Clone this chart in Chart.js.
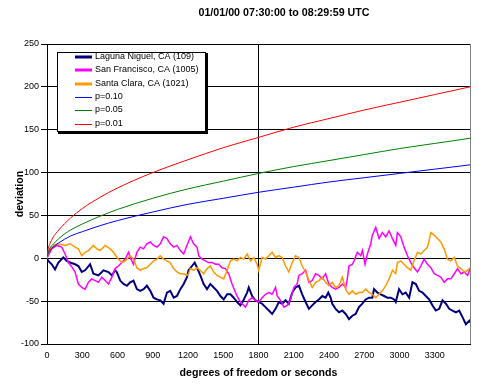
<!DOCTYPE html>
<html lang="en">
<head>
    <meta charset="UTF-8">
    <title>Deviation chart</title>
    <style>
        html, body { margin: 0; padding: 0; background: #fff; }
        #chart { display: block; }
    </style>
    <script src="https://cdn.jsdelivr.net/npm/chart.js@4.4.6/dist/chart.umd.min.js"></script>
</head>
<body>
    <canvas id="chart" width="479" height="384"></canvas>
    <script>
        // [seconds, deviation]
        const laguna = [[0,0],[11,-3],[40,-7],[68,-13],[97,-5],[139,1],[168,-3],[196,-5],[239,-7],[267,-9],[296,-16],[324,-14],[367,-7],[395,-18],[438,-20],[481,-14],[523,-16],[552,-20],[580,-14],[594,-16],[623,-26],[651,-30],[680,-32],[708,-28],[736,-26],[765,-36],[793,-38],[822,-36],[850,-32],[879,-38],[907,-46],[936,-48],[964,-49],[992,-53],[1021,-40],[1049,-38],[1078,-46],[1106,-44],[1135,-36],[1163,-30],[1191,-22],[1205,-14],[1234,-9],[1257,-5],[1277,-11],[1305,-20],[1333,-30],[1362,-36],[1390,-30],[1419,-34],[1447,-38],[1476,-44],[1504,-48],[1533,-42],[1561,-42],[1589,-46],[1618,-51],[1646,-55],[1675,-48],[1703,-40],[1717,-34],[1746,-44],[1774,-49],[1802,-51],[1831,-53],[1859,-57],[1888,-61],[1916,-65],[1945,-59],[1973,-51],[2002,-53],[2030,-49],[2058,-53],[2087,-40],[2115,-34],[2144,-32],[2172,-42],[2201,-51],[2229,-59],[2257,-55],[2286,-51],[2314,-48],[2343,-44],[2371,-46],[2394,-40],[2414,-46],[2428,-53],[2456,-59],[2485,-63],[2513,-61],[2542,-65],[2570,-71],[2599,-67],[2627,-65],[2655,-57],[2684,-53],[2712,-48],[2741,-46],[2769,-46],[2783,-36],[2812,-40],[2840,-42],[2869,-44],[2897,-46],[2926,-46],[2954,-48],[2968,-51],[2996,-36],[3025,-42],[3053,-40],[3082,-46],[3110,-28],[3139,-30],[3167,-38],[3196,-40],[3224,-44],[3252,-48],[3281,-55],[3309,-61],[3338,-59],[3366,-49],[3395,-53],[3423,-59],[3451,-61],[3480,-63],[3508,-61],[3537,-69],[3565,-77],[3594,-73],[3600,-75]];

        const sanFrancisco = [[0,0],[40,11],[83,15],[125,13],[154,5],[182,-5],[211,-10],[239,-16],[267,-30],[296,-34],[324,-36],[353,-28],[381,-24],[410,-26],[438,-28],[466,-22],[495,-26],[523,-30],[552,-22],[580,-12],[608,-9],[637,-5],[665,-1],[694,7],[708,1],[736,-7],[765,7],[793,13],[822,11],[850,17],[879,19],[907,15],[936,13],[964,17],[992,25],[1021,23],[1049,17],[1078,13],[1106,15],[1135,9],[1163,5],[1191,15],[1220,25],[1248,17],[1277,13],[1291,3],[1319,-1],[1348,-3],[1376,-5],[1405,-5],[1433,-7],[1461,-7],[1490,-11],[1518,-12],[1547,-18],[1575,-30],[1604,-40],[1632,-48],[1660,-53],[1689,-57],[1717,-49],[1746,-46],[1774,-49],[1802,-51],[1831,-46],[1859,-42],[1888,-40],[1916,-42],[1945,-34],[1959,-44],[1987,-49],[2016,-57],[2044,-55],[2073,-48],[2101,-34],[2129,-30],[2144,-20],[2172,-18],[2201,-14],[2229,-28],[2257,-26],[2286,-18],[2314,-20],[2343,-24],[2371,-18],[2399,-30],[2428,-34],[2456,-36],[2485,-34],[2513,-30],[2542,-34],[2556,-24],[2570,-9],[2599,-7],[2613,-3],[2641,7],[2670,3],[2684,9],[2707,-7],[2727,5],[2755,17],[2769,27],[2798,36],[2826,23],[2854,30],[2883,25],[2911,32],[2940,23],[2968,15],[2982,30],[3011,25],[3039,13],[3068,3],[3096,-5],[3124,-11],[3153,-16],[3181,-9],[3210,-1],[3238,-7],[3267,-11],[3295,-18],[3323,-20],[3352,-22],[3380,-28],[3409,-24],[3437,-24],[3466,-18],[3494,-12],[3523,-18],[3551,-16],[3580,-20],[3600,-12]];

        const santaClara = [[0,0],[11,8],[54,15],[97,17],[154,15],[196,17],[239,13],[267,11],[296,3],[324,7],[353,9],[395,15],[424,11],[452,9],[495,15],[538,11],[566,7],[586,3],[608,-1],[637,-5],[665,-3],[708,3],[736,-1],[765,-11],[793,-14],[822,-12],[850,-11],[879,-7],[907,-3],[936,-1],[964,3],[992,-1],[1021,-3],[1049,-5],[1078,-12],[1106,-16],[1135,-18],[1163,-18],[1191,-20],[1205,-18],[1220,-12],[1248,-14],[1277,-11],[1305,-14],[1333,-18],[1362,-12],[1390,-9],[1419,-16],[1447,-20],[1476,-22],[1504,-24],[1533,-14],[1561,-3],[1589,-1],[1618,-3],[1646,1],[1675,-1],[1703,5],[1732,-3],[1760,1],[1788,-7],[1802,-14],[1831,1],[1859,-1],[1888,3],[1916,7],[1945,1],[1973,3],[2002,1],[2030,-9],[2058,-16],[2087,-5],[2115,3],[2144,1],[2172,-9],[2201,-16],[2229,-26],[2257,-34],[2286,-28],[2314,-26],[2343,-22],[2371,-28],[2399,-32],[2428,-28],[2456,-34],[2485,-32],[2513,-22],[2542,-36],[2570,-42],[2599,-38],[2627,-42],[2655,-40],[2684,-40],[2712,-36],[2741,-40],[2769,-42],[2798,-46],[2826,-42],[2854,-38],[2883,-32],[2911,-24],[2940,-14],[2968,-18],[2982,-5],[3011,-3],[3039,-7],[3068,-11],[3096,-14],[3124,-3],[3153,7],[3181,5],[3210,9],[3238,13],[3252,21],[3267,30],[3295,27],[3323,23],[3352,19],[3380,11],[3409,-1],[3437,-3],[3466,1],[3494,-9],[3523,-12],[3551,-16],[3580,-14],[3600,-11]];

        // significance curves, sampled at these seconds
        const curveT = [1, 10, 25, 50, 100, 200, 300, 450, 600, 900, 1200, 1500, 1800, 2100, 2400, 2700, 3000, 3300, 3600];
        const p10 = [2, 6, 9, 13, 18, 26, 31, 38, 44, 54, 63, 70, 77, 83, 89, 94, 99, 104, 109];
        const p05 = [2, 7, 12, 16, 23, 33, 40, 49, 57, 70, 81, 90, 99, 107, 114, 121, 128, 134, 140];
        const p01 = [3, 11, 17, 24, 33, 47, 58, 71, 82, 100, 115, 129, 141, 153, 163, 173, 182, 191, 200];

        const titleText = '01/01/00 07:30:00 to 08:29:59 UTC';
        const fontFamily = "'Liberation Sans', Arial, sans-serif";

        const toPts = arr => arr.map(p => ({ x: p[0], y: p[1] }));
        const curvePts = vals => curveT.map((t, i) => ({ x: t, y: vals[i] }));

        // title is a bit right of centre in the original, so draw it by hand
        const titlePlugin = {
            id: 'titleText',
            afterDraw(chart) {
                const ctx = chart.ctx;
                ctx.save();
                ctx.font = 'bold 10.7px ' + fontFamily;
                ctx.fillStyle = '#000';
                ctx.textAlign = 'center';
                ctx.textBaseline = 'middle';
                ctx.fillText(titleText, 284, 13);
                ctx.restore();
            }
        };

        // boxed legend inside the plot, with a drop shadow
        const boxLegend = {
            id: 'boxLegend',
            afterDatasetsDraw(chart) {
                const ctx = chart.ctx;
                const left = 57, top = 52, w = 149, h = 80;
                ctx.save();
                ctx.fillStyle = '#000';
                ctx.fillRect(left + 1, top + 1, w + 1, h + 1);
                ctx.fillStyle = '#fff';
                ctx.fillRect(left, top, w, h);
                ctx.strokeStyle = '#000';
                ctx.lineWidth = 1;
                ctx.strokeRect(left + 0.5, top + 0.5, w - 1, h - 1);
                ctx.font = '9px ' + fontFamily;
                ctx.textBaseline = 'middle';
                chart.data.datasets.forEach((ds, i) => {
                    const y = Math.round(57 + i * 13.35);
                    const thick = i < 3;
                    ctx.strokeStyle = ds.borderColor;
                    ctx.lineWidth = thick ? 3 : 1;
                    ctx.beginPath();
                    ctx.moveTo(75, y + (thick ? 0 : 0.5));
                    ctx.lineTo(92, y + (thick ? 0 : 0.5));
                    ctx.stroke();
                    ctx.fillStyle = '#000';
                    ctx.fillText(ds.label, 95, y);
                });
                ctx.restore();
            }
        };

        new Chart(document.getElementById('chart'), {
            type: 'line',
            data: {
                datasets: [
                    { label: 'Laguna Niguel, CA (109)', data: toPts(laguna), borderColor: '#000080', borderWidth: 2, order: 6 },
                    { label: 'San Francisco, CA (1005)', data: toPts(sanFrancisco), borderColor: '#FF00FF', borderWidth: 1.5, order: 5 },
                    { label: 'Santa Clara, CA (1021)', data: toPts(santaClara), borderColor: '#FF9900', borderWidth: 1.5, order: 4 },
                    { label: 'p=0.10', data: curvePts(p10), borderColor: '#0000FF', borderWidth: 1, cubicInterpolationMode: 'monotone', order: 3 },
                    { label: 'p=0.05', data: curvePts(p05), borderColor: '#008000', borderWidth: 1, cubicInterpolationMode: 'monotone', order: 2 },
                    { label: 'p=0.01', data: curvePts(p01), borderColor: '#FF0000', borderWidth: 1, cubicInterpolationMode: 'monotone', order: 1 }
                ]
            },
            options: {
                responsive: false,
                animation: false,
                devicePixelRatio: 1,
                layout: { padding: { top: 44, right: 9, left: 0, bottom: 0 } },
                elements: { point: { radius: 0 }, line: { tension: 0, fill: false } },
                plugins: {
                    legend: { display: false },
                    tooltip: { enabled: false },
                    title: { display: false }
                },
                scales: {
                    x: {
                        type: 'linear',
                        min: 0,
                        max: 3600,
                        afterFit(scale) { scale.height = 40; },
                        ticks: {
                            stepSize: 300,
                            autoSkip: false,
                            maxRotation: 0,
                            padding: 3,
                            color: '#000',
                            font: { family: fontFamily, size: 9 },
                            callback: v => v === 3600 ? '' : String(v)
                        },
                        grid: {
                            color: c => c.tick && c.tick.value === 1800 ? '#000' : (c.tick && c.tick.value === 3600 ? '#808080' : 'rgba(0,0,0,0)'),
                            tickColor: 'rgba(0,0,0,0)',
                            tickLength: 3
                        },
                        border: { color: '#000', width: 1 },
                        title: {
                            display: true,
                            text: 'degrees of freedom or seconds',
                            color: '#000',
                            font: { family: fontFamily, size: 10.6, weight: 'bold' },
                            padding: { top: 0, bottom: 5 }
                        }
                    },
                    y: {
                        min: -100,
                        max: 250,
                        afterFit(scale) { scale.width = 47; },
                        ticks: {
                            stepSize: 50,
                            padding: 2,
                            color: '#000',
                            font: { family: fontFamily, size: 9 }
                        },
                        grid: {
                            color: '#000',
                            tickColor: '#000',
                            tickLength: 6
                        },
                        border: { color: '#000', width: 1 },
                        title: {
                            display: true,
                            text: 'deviation',
                            color: '#000',
                            font: { family: fontFamily, size: 10.6, weight: 'bold' },
                            padding: { top: 14, bottom: 0 }
                        }
                    }
                }
            },
            plugins: [titlePlugin, boxLegend]
        });
    </script>
</body>
</html>
